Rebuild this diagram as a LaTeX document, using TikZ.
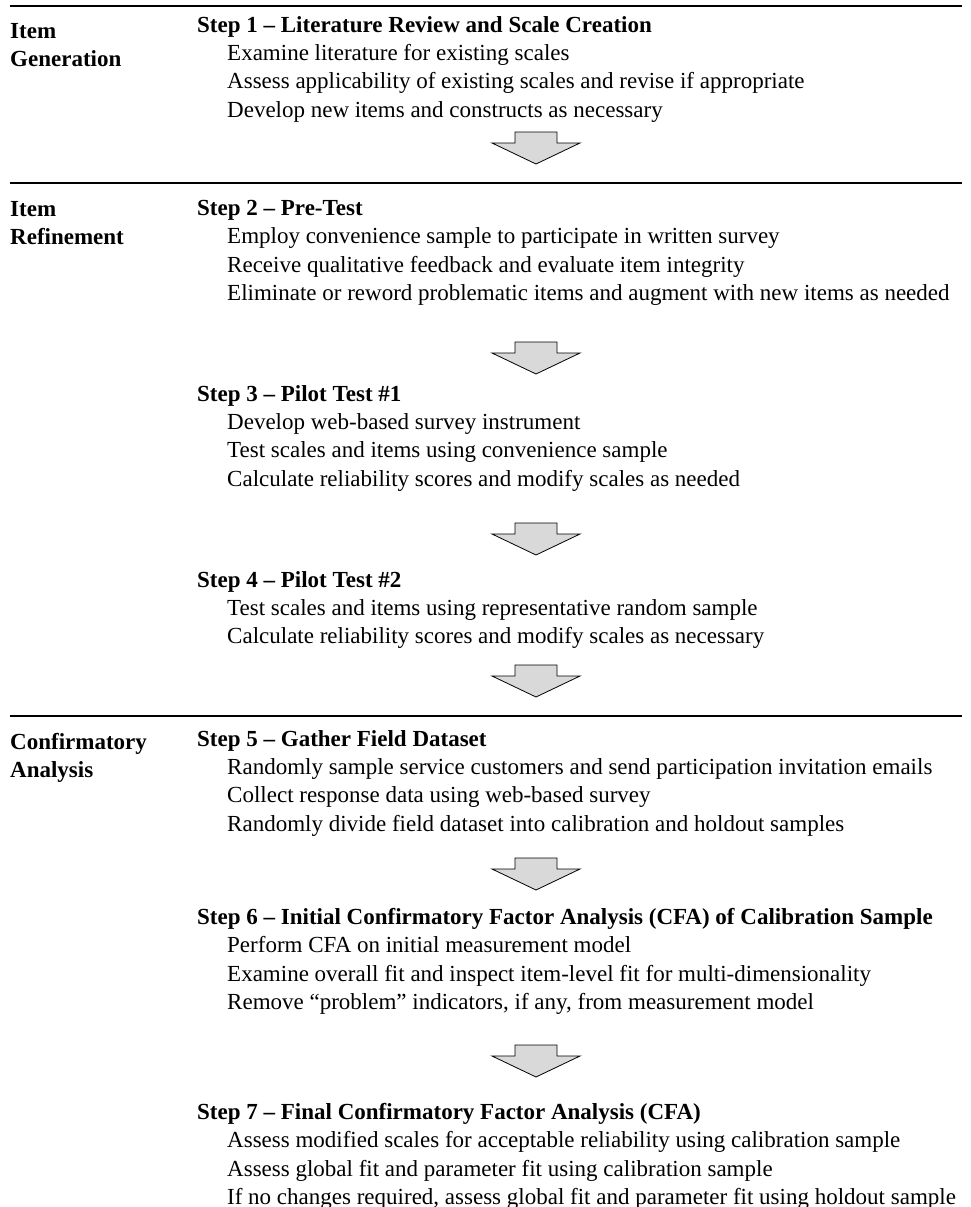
\documentclass[tikz,border=0pt]{standalone}
\usepackage{fontspec}
\setmainfont{Liberation Serif}
\usetikzlibrary{positioning}

\newcommand{\substep}[1]{\\\hspace*{30pt}#1}

\begin{document}
\begin{tikzpicture}[x=1pt, y=-1pt, phase/.style={anchor=north west, inner sep=0pt, align=left, font=\fontsize{23}{28.3}\selectfont\bfseries}, stepbox/.style={anchor=north west, inner sep=0pt, align=left, font=\fontsize{23}{28.3}\selectfont}, rule/.style={line width=1.5pt}, downarrow/.pic={\draw[fill=gray!30, line width=0.8pt] (-21,-16) -- (21,-16) -- (21,-5) -- (44,-5) -- (0,16) -- (-44,-5) -- (-21,-5) -- cycle;}]

\useasboundingbox (0,0) rectangle (971,1207);

\draw[rule] (10,6) -- (962,6);
\draw[rule] (10,183) -- (962,183);
\draw[rule] (10,716) -- (962,716);

\node[phase] (gen) at (10,23) {Item\\Generation};
\node[phase] (refine) at (10,201) {Item\\Refinement};
\node[phase] (confirm) at (10,733) {Confirmatory\\Analysis};

\node[stepbox] (one) at (197,16) {\textbf{Step 1 – Literature Review and Scale Creation}\substep{Examine literature for existing scales}\substep{Assess applicability of existing scales and revise if appropriate}\substep{Develop new items and constructs as necessary}};
\node[stepbox] (two) at (197,200) {\textbf{Step 2 – Pre-Test}\substep{Employ convenience sample to participate in written survey}\substep{Receive qualitative feedback and evaluate item integrity}\substep{Eliminate or reword problematic items and augment with new items as needed}};
\node[stepbox] (three) at (197,385) {\textbf{Step 3 – Pilot Test \#1}\substep{Develop web-based survey instrument}\substep{Test scales and items using convenience sample}\substep{Calculate reliability scores and modify scales as needed}};
\node[stepbox] (four) at (197,571) {\textbf{Step 4 – Pilot Test \#2}\substep{Test scales and items using representative random sample}\substep{Calculate reliability scores and modify scales as necessary}};
\node[stepbox] (five) at (197,730) {\textbf{Step 5 – Gather Field Dataset}\substep{Randomly sample service customers and send participation invitation emails}\substep{Collect response data using web-based survey}\substep{Randomly divide field dataset into calibration and holdout samples}};
\node[stepbox] (six) at (197,908) {\textbf{Step 6 – Initial Confirmatory Factor Analysis (CFA) of Calibration Sample}\substep{Perform CFA on initial measurement model}\substep{Examine overall fit and inspect item-level fit for multi-dimensionality}\substep{Remove “problem” indicators, if any, from measurement model}};
\node[stepbox] (seven) at (197,1103) {\textbf{Step 7 – Final Confirmatory Factor Analysis (CFA)}\substep{Assess modified scales for acceptable reliability using calibration sample}\substep{Assess global fit and parameter fit using calibration sample}\substep{If no changes required, assess global fit and parameter fit using holdout sample}};

% block arrows between steps
\pic (a1) at (536,148) {downarrow};
\pic (a2) at (536,358) {downarrow};
\pic (a3) at (536,539) {downarrow};
\pic (a4) at (536,681) {downarrow};
\pic (a5) at (536,874) {downarrow};
\pic (a6) at (536,1061) {downarrow};

\end{tikzpicture}
\end{document}
